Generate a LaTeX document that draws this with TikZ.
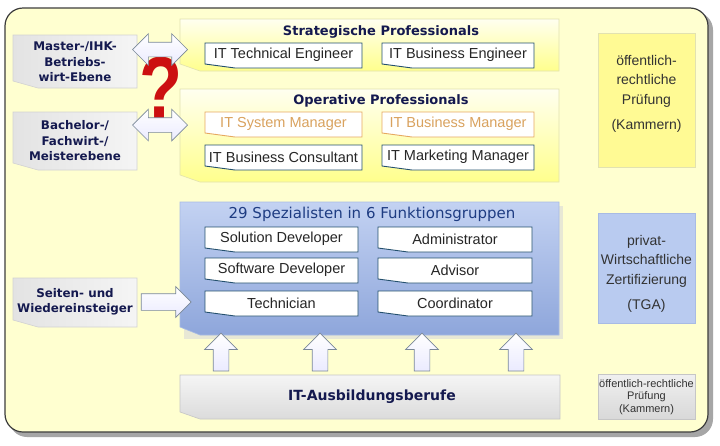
\documentclass[tikz,border=0pt]{standalone}
\usepackage{fontspec}
\setmainfont{Liberation Sans}
\newfontfamily\verd{DejaVu Sans}
\usetikzlibrary{shapes.arrows}
\definecolor{bgyellow}{HTML}{FFFFD0}
\definecolor{framecol}{HTML}{3C3C3C}
\definecolor{contline}{HTML}{E2E2B0}
\definecolor{navy}{HTML}{14194F}
\definecolor{specblue}{HTML}{1E3C82}
\definecolor{boxline}{HTML}{24506E}
\definecolor{orangeline}{HTML}{E6A860}
\definecolor{orangetext}{HTML}{D9A25E}
\definecolor{qred}{HTML}{CC1010}
\definecolor{arrline}{HTML}{7A8898}
\definecolor{bluetop}{HTML}{C3D2F2}
\definecolor{bluebot}{HTML}{8EA6DB}
\definecolor{blueline}{HTML}{A8BBE4}
\definecolor{lightblue}{HTML}{B9CBF0}
\newcommand{\cbox}[7]{%
  \path[#1] (#2,#3) -- (#4,#3) -- (#4,#5) -- ({#2+#6},#5) -- (#2,{#5-#7}) -- cycle;}
\tikzset{
  ycont/.style={shade, top color=yellow!6!white, bottom color=yellow!45!white, draw=contline, line width=0.6pt},
  bcont/.style={shade, top color=bluetop, bottom color=bluebot, draw=blueline, line width=0.6pt},
  gcont/.style={shade, top color=gray!8, bottom color=gray!28, draw=gray!45, line width=0.6pt},
  lgrey/.style={shade, left color=gray!22, right color=gray!8, draw=gray!35, line width=0.6pt},
  wbox/.style={fill=white, draw=boxline, line width=0.9pt},
  obox/.style={fill=white, draw=orangeline, line width=0.9pt},
  itext/.style={font=\fontsize{14.5}{16}\selectfont, text=black!85, inner sep=0pt},
  otext/.style={itext, text=orangetext},
  ttext/.style={font=\verd\bfseries\fontsize{13}{15}\selectfont, text=navy, inner sep=0pt},
  ltext/.style={font=\verd\bfseries\fontsize{11.9}{15.5}\selectfont, text=navy, align=center, inner sep=0pt},
  rtext/.style={font=\fontsize{14}{19.5}\selectfont, text=black!80, align=center, inner sep=0pt},
  blockarr/.style={single arrow, shade, top color=white, bottom color=blue!8!white, draw=arrline, line width=0.7pt, inner sep=0pt, single arrow head extend=8.5pt, anchor=center},
  dblarr/.style={double arrow, shade, top color=white, bottom color=blue!8!white, draw=arrline, line width=0.7pt, inner sep=0pt, double arrow head extend=8.5pt, anchor=center}
}
\begin{document}
\begin{tikzpicture}[x=1pt,y=-1pt]
\useasboundingbox (0,0) rectangle (720,445);
\fill[white] (0,0) rectangle (720,445);
% outer frame
\fill[gray!70, rounded corners=18] (9,12) rectangle (713,437);
\draw[framecol, line width=1.2pt, fill=bgyellow, rounded corners=18] (5,8) rectangle (708,432);

% containers
\cbox{ycont}{180}{19}{559}{71}{20}{7}
\cbox{ycont}{180}{89}{559}{182}{20}{7}
\fill[gray!30, opacity=0.6] (184,206) rectangle (563,339);
\cbox{bcont}{180}{202}{559}{335}{20}{8}
\cbox{gcont}{180}{375}{560}{419}{20}{7}

% left boxes
\cbox{lgrey}{13}{35}{137}{88}{25}{7}
\cbox{lgrey}{13}{112}{137}{170}{25}{7}
\cbox{lgrey}{13}{278}{137}{327}{25}{7}
\node[ltext] (master) at (75,62) {Master-/IHK-\\Betriebs-\\wirt-Ebene};
\node[ltext] (bachelor) at (75,141) {Bachelor-/\\Fachwirt-/\\Meisterebene};
\node[ltext] (seiten) at (75,302) {Seiten- und\\Wiedereinsteiger};

% right boxes
\draw[fill=yellow!42!white, draw=contline, line width=0.6pt] (598,33) rectangle (695,167);
\draw[fill=lightblue, draw=blueline, line width=0.6pt] (598,213) rectangle (695,323);
\draw[shade, top color=gray!12, bottom color=gray!30, draw=gray!45, line width=0.6pt] (598,374) rectangle (695,419);
\node[rtext] (oeff) at (646.5,94) {öffentlich-\\rechtliche\\Prüfung\\[6pt](Kammern)};
\node[rtext] (privat) at (646.5,274) {privat-\\Wirtschaftliche\\Zertifizierung\\[6pt](TGA)};
\node[rtext, font=\fontsize{11}{12.5}\selectfont] (oeff2) at (646.5,397) {öffentlich-rechtliche\\Prüfung\\(Kammern)};

% titles
\node[ttext] (strat) at (381,32) {Strategische Professionals};
\node[ttext] (oper) at (381,101) {Operative Professionals};
\node[font=\verd\fontsize{15}{17}\selectfont, text=specblue, inner sep=0pt] (spez) at (372,214) {29 Spezialisten in 6 Funktionsgruppen};
\node[font=\verd\bfseries\fontsize{14}{16}\selectfont, text=navy, inner sep=0pt] (ausb) at (372,397) {IT-Ausbildungsberufe};

% inner boxes
\cbox{wbox}{205}{43}{362}{68}{30}{4}
\cbox{wbox}{382}{43}{534}{68}{30}{4}
\cbox{obox}{205}{112}{362}{137}{30}{4}
\cbox{obox}{382}{112}{534}{137}{30}{4}
\cbox{wbox}{205}{145}{362}{170}{30}{4}
\cbox{wbox}{382}{145}{534}{170}{30}{4}
\cbox{wbox}{205}{227}{358}{252}{30}{4}
\cbox{wbox}{378}{227}{532}{252}{30}{4}
\cbox{wbox}{205}{258}{358}{283}{30}{4}
\cbox{wbox}{378}{258}{532}{283}{30}{4}
\cbox{wbox}{205}{291}{358}{316}{30}{4}
\cbox{wbox}{378}{291}{532}{316}{30}{4}
\node[itext] (tech) at (283.5,55) {IT Technical Engineer};
\node[itext] (buseng) at (458,55) {IT Business Engineer};
\node[otext] (sysman) at (283.5,124) {IT System Manager};
\node[otext] (busman) at (458,124) {IT Business Manager};
\node[itext] (buscon) at (283.5,157) {IT Business Consultant};
\node[itext] (marman) at (458,157) {IT Marketing Manager};
\node[itext] (soldev) at (281.5,239) {Solution Developer};
\node[itext] (admin) at (455,239) {Administrator};
\node[itext] (swdev) at (281.5,270) {Software Developer};
\node[itext] (advisor) at (455,270) {Advisor};
\node[itext] (techn) at (281.5,303) {Technician};
\node[itext] (coord) at (455,303) {Coordinator};

% question mark
\node[font=\fontsize{88}{88}\selectfont\bfseries, text=qred, xscale=0.8, inner sep=0pt] (quest) at (161,88) {?};

% arrows
\node[dblarr, minimum height=55pt] (arrM) at (160,49.5) {\rule{0pt}{14pt}};
\node[dblarr, minimum height=55pt] (arrB) at (160,125) {\rule{0pt}{14pt}};
\node[blockarr, minimum height=50pt, single arrow head extend=7pt] (arrS) at (162,302) {\rule{0pt}{16pt}};
\foreach \i/\xx in {1/221,2/320,3/422,4/516}{
  \node[blockarr, rotate=90, minimum height=38pt] (up\i) at (\xx,356) {\rule{0pt}{15pt}};
}
\end{tikzpicture}
\end{document}
